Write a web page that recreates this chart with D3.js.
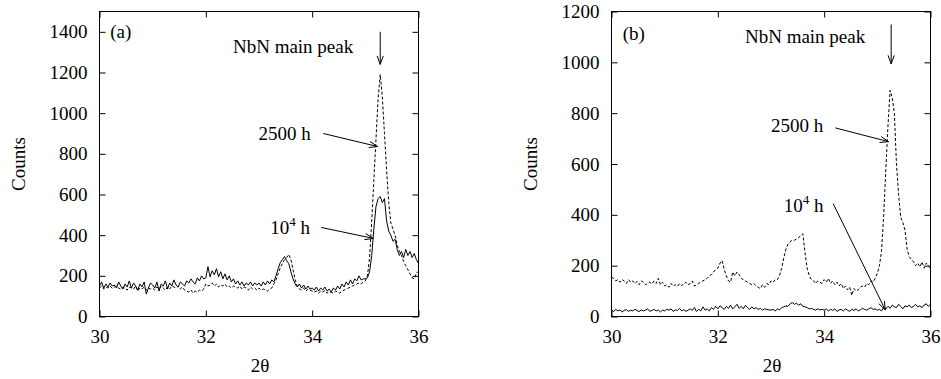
<!DOCTYPE html>
<html><head><meta charset="utf-8">
<script src="https://cdn.jsdelivr.net/npm/d3@7"></script>
<style>
body{margin:0;background:#fff}
svg{display:block}
svg text{font-family:"Liberation Serif","Times New Roman",Times,serif;fill:#000}
</style>
</head><body>
<svg id="chart" width="941" height="379"></svg>
<script>
// ---- data ----
const xStart = 30, xStep = 0.04;           // 2θ sampling
const xTicks = [30, 32, 34, 36];
const yTicksA = [0, 200, 400, 600, 800, 1000, 1200, 1400];
const yTicksB = [0, 200, 400, 600, 800, 1000, 1200];

// panel (a) 10^4 h (solid)
const a10k = [
 150,170,140,160,145,165,150,155,140,170,150,135,160,145,175,140,165,150,130,160,145,170,110,140,165,
 155,140,170,125,160,150,175,135,165,150,180,155,145,170,160,150,175,165,185,170,160,190,175,200,185,
 190,245,195,225,205,235,195,220,185,210,180,200,170,185,160,175,155,170,150,165,155,170,150,165,155,
 165,150,170,155,175,160,180,170,200,235,265,280,295,275,260,220,185,160,145,160,140,155,135,150,135,
 140,130,145,125,140,130,145,125,135,120,140,130,150,135,160,145,170,155,180,160,185,175,200,180,185,
 185,190,220,300,430,540,580,590,560,580,470,420,400,370,380,330,300,320,290,330,300,320,290,310,280,
 260];
// panel (a) 2500 h (dashed)
const a2500 = [
 140,150,135,145,140,150,138,145,150,140,135,145,140,130,145,140,135,150,125,140,135,145,130,140,135,
 140,130,145,135,150,140,130,145,135,150,145,140,150,135,145,130,125,120,130,115,125,120,130,125,135,
 160,150,155,165,150,160,145,155,150,160,145,150,140,150,145,140,150,135,145,140,130,145,135,140,130,
 140,130,135,130,125,135,140,160,180,210,240,260,280,290,305,280,230,180,150,135,130,140,125,135,130,
 125,120,125,115,125,120,128,115,122,118,115,125,120,115,125,130,135,140,145,150,155,160,165,160,170,
 175,200,290,470,670,870,1070,1190,1080,900,720,560,460,430,400,350,320,300,270,250,230,210,190,185,215,
 220];
// panel (b) 10^4 h (solid)
const b10k = [
 25,20,28,22,26,18,24,27,20,25,22,28,24,19,26,22,25,30,20,24,28,22,26,18,25,
 22,28,25,30,20,26,24,32,22,27,20,25,30,24,35,20,28,22,38,25,30,22,35,28,40,
 30,42,35,28,40,32,45,30,38,48,32,40,30,44,35,28,38,30,35,28,32,25,30,28,26,
 25,28,22,30,26,35,38,42,40,50,55,48,52,45,50,40,38,35,30,32,28,25,30,26,28,
 25,30,22,28,24,30,20,26,28,22,30,25,20,28,24,30,22,26,32,28,25,30,35,28,30,
 25,28,22,35,30,40,32,45,38,35,48,40,30,42,38,45,35,40,48,38,42,35,45,50,40,
 48];
// panel (b) 2500 h (dashed)
const b2500 = [
 155,150,140,145,135,145,140,130,145,135,140,130,138,125,140,135,125,130,135,128,140,130,150,125,135,
 120,125,115,130,120,125,118,130,122,128,135,125,130,140,120,125,130,135,140,145,150,160,165,175,185,
 190,210,220,185,160,140,135,175,160,175,165,150,145,140,135,130,125,130,120,115,110,125,115,130,125,
 140,135,145,145,160,190,230,265,285,295,300,300,305,310,320,325,250,190,160,145,140,130,140,135,130,
 145,135,150,130,140,125,135,120,130,110,120,105,115,83,110,100,105,115,120,115,130,125,140,135,150,
 170,200,260,400,580,750,890,860,800,600,480,390,370,340,265,235,225,215,200,210,195,215,190,210,200,
 190];

// annotations (data units)
const annotA = {
  tag: {t: "(a)", x: 30.2, y: 1372},
  title: {t: "NbN main peak", x: 32.51, y: 1298},
  peakArrow: [[35.28, 1400], [35.28, 1240]],
  l2500: {x: 32.99, y: 866}, a2500: [[34.21, 900], [35.23, 836]],
  l10k: {x: 33.21, y: 408}, a10k: [[34.17, 438], [35.15, 384]]
};
const annotB = {
  tag: {t: "(b)", x: 30.21, y: 1086},
  title: {t: "NbN main peak", x: 32.51, y: 1075},
  peakArrow: [[35.26, 1149], [35.26, 994]],
  l2500: {x: 33.0, y: 725}, a2500: [[34.21, 742], [35.21, 688]],
  l10k: {x: 33.24, y: 410}, a10k: [[34.17, 444], [35.15, 26]]
};

// ---- drawing ----
const svg = d3.select("#chart");
const FS = 19;
const FF = "Liberation Serif, Times New Roman, Times, serif";

function arrow(g, x, y, pts) {
  const [x0, y0] = [x(pts[0][0]), y(pts[0][1])];
  const [x1, y1] = [x(pts[1][0]), y(pts[1][1])];
  g.append("line").attr("x1", x0).attr("y1", y0).attr("x2", x1).attr("y2", y1)
    .attr("stroke", "#000").attr("stroke-width", 1);
  const ang = Math.atan2(y1 - y0, x1 - x0), L = 9, W = 0.35;
  const p = d3.path();
  p.moveTo(x1 - L * Math.cos(ang - W), y1 - L * Math.sin(ang - W));
  p.lineTo(x1, y1);
  p.lineTo(x1 - L * Math.cos(ang + W), y1 - L * Math.sin(ang + W));
  g.append("path").attr("d", p.toString()).attr("fill", "none")
    .attr("stroke", "#000").attr("stroke-width", 1);
}

function panel(cfg) {
  const g = svg.append("g").attr("font-family", FF);
  const x = d3.scaleLinear().domain([30, 36]).range([cfg.L, cfg.R]);
  const y = d3.scaleLinear().domain([0, cfg.ymax]).range([cfg.B, cfg.T]);

  const styleAxis = sel => {
    sel.attr("font-family", FF).attr("font-size", FS);
    sel.select(".domain").remove();
    sel.selectAll("line").attr("stroke", "#000");
    sel.selectAll("text").attr("fill", "#000");
  };
  g.append("g").attr("transform", `translate(${cfg.L},0)`)
    .call(d3.axisLeft(y).tickValues(cfg.yTicks).tickSize(-6).tickPadding(12).tickFormat(d3.format("d")))
    .call(styleAxis);
  g.append("g").attr("transform", `translate(${cfg.R},0)`)
    .call(d3.axisRight(y).tickValues(cfg.yTicks).tickSize(-6).tickFormat(""))
    .call(styleAxis);
  g.append("g").attr("transform", `translate(0,${cfg.B})`)
    .call(d3.axisBottom(x).tickValues(xTicks).tickSize(-6).tickPadding(13).tickFormat(d3.format("d")))
    .call(styleAxis);
  g.append("g").attr("transform", `translate(0,${cfg.T})`)
    .call(d3.axisTop(x).tickValues(xTicks).tickSize(-6).tickFormat(""))
    .call(styleAxis);

  g.append("rect").attr("x", cfg.L).attr("y", cfg.T)
    .attr("width", cfg.R - cfg.L).attr("height", cfg.B - cfg.T)
    .attr("fill", "none").attr("stroke", "#000").attr("stroke-width", 1);

  const line = d3.line().x((d, i) => x(xStart + i * xStep)).y(d => y(d));
  g.append("path").datum(cfg.dashed).attr("d", line).attr("fill", "none")
    .attr("stroke", "#000").attr("stroke-width", 1).attr("stroke-dasharray", "3,2");
  g.append("path").datum(cfg.solid).attr("d", line).attr("fill", "none")
    .attr("stroke", "#000").attr("stroke-width", 1);

  // axis titles
  g.append("text").attr("transform", `translate(${cfg.L - 74.5},${(cfg.T + cfg.B) / 2}) rotate(-90)`)
    .attr("text-anchor", "middle").attr("font-size", FS).text("Counts");
  g.append("text").attr("x", (cfg.L + cfg.R) / 2 + 1).attr("y", 372)
    .attr("text-anchor", "middle").attr("font-size", FS).text("2θ");

  const a = cfg.annot;
  g.append("text").attr("x", x(a.tag.x)).attr("y", y(a.tag.y)).attr("font-size", FS).text(a.tag.t);
  g.append("text").attr("x", x(a.title.x)).attr("y", y(a.title.y)).attr("font-size", FS).text(a.title.t);
  arrow(g, x, y, a.peakArrow);
  g.append("text").attr("x", x(a.l2500.x)).attr("y", y(a.l2500.y)).attr("font-size", FS).text("2500 h");
  arrow(g, x, y, a.a2500);
  const t = g.append("text").attr("x", x(a.l10k.x)).attr("y", y(a.l10k.y)).attr("font-size", FS);
  t.append("tspan").text("10");
  t.append("tspan").attr("font-size", 13).attr("dy", -8).text("4");
  t.append("tspan").attr("dy", 8).text(" h");
  arrow(g, x, y, a.a10k);
}

panel({L: 99.5, R: 418.5, T: 11.5, B: 316.5, ymax: 1500, yTicks: yTicksA,
       solid: a10k, dashed: a2500, annot: annotA});
panel({L: 611.5, R: 930.5, T: 11.5, B: 316.5, ymax: 1200, yTicks: yTicksB,
       solid: b10k, dashed: b2500, annot: annotB});
</script>
</body></html>
